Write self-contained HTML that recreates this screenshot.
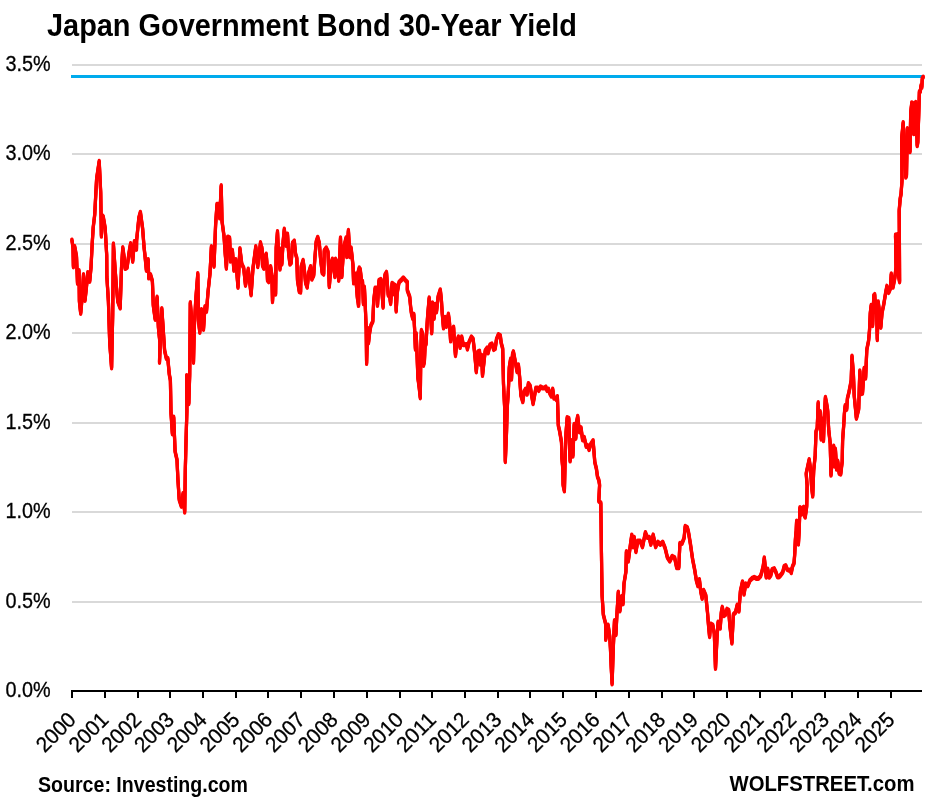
<!DOCTYPE html><html><head><meta charset="utf-8"><style>html,body{margin:0;padding:0;background:#fff;overflow:hidden;}svg{display:block;will-change:transform;}text{font-family:"Liberation Sans",sans-serif;}</style></head><body>
<svg width="931" height="801" viewBox="0 0 931 801">
<rect width="931" height="801" fill="#fff"/>
<text x="47" y="35.5" font-size="31" font-weight="bold" fill="#000" textLength="530" lengthAdjust="spacingAndGlyphs">Japan Government Bond 30-Year Yield</text>
<rect x="72" y="601" width="850" height="2" fill="#d9d9d9"/>
<rect x="72" y="511" width="850" height="2" fill="#d9d9d9"/>
<rect x="72" y="422" width="850" height="2" fill="#d9d9d9"/>
<rect x="72" y="332" width="850" height="2" fill="#d9d9d9"/>
<rect x="72" y="243" width="850" height="2" fill="#d9d9d9"/>
<rect x="72" y="153" width="850" height="2" fill="#d9d9d9"/>
<rect x="72" y="64" width="850" height="2" fill="#d9d9d9"/>
<text x="50.6" y="697.2" font-size="21.5" stroke="#000" stroke-width="0.3" text-anchor="end" textLength="45.2" lengthAdjust="spacingAndGlyphs">0.0%</text>
<text x="50.6" y="608.2" font-size="21.5" stroke="#000" stroke-width="0.3" text-anchor="end" textLength="45.2" lengthAdjust="spacingAndGlyphs">0.5%</text>
<text x="50.6" y="518.2" font-size="21.5" stroke="#000" stroke-width="0.3" text-anchor="end" textLength="45.2" lengthAdjust="spacingAndGlyphs">1.0%</text>
<text x="50.6" y="429.2" font-size="21.5" stroke="#000" stroke-width="0.3" text-anchor="end" textLength="45.2" lengthAdjust="spacingAndGlyphs">1.5%</text>
<text x="50.6" y="339.2" font-size="21.5" stroke="#000" stroke-width="0.3" text-anchor="end" textLength="45.2" lengthAdjust="spacingAndGlyphs">2.0%</text>
<text x="50.6" y="250.2" font-size="21.5" stroke="#000" stroke-width="0.3" text-anchor="end" textLength="45.2" lengthAdjust="spacingAndGlyphs">2.5%</text>
<text x="50.6" y="160.2" font-size="21.5" stroke="#000" stroke-width="0.3" text-anchor="end" textLength="45.2" lengthAdjust="spacingAndGlyphs">3.0%</text>
<text x="50.6" y="71.2" font-size="21.5" stroke="#000" stroke-width="0.3" text-anchor="end" textLength="45.2" lengthAdjust="spacingAndGlyphs">3.5%</text>
<rect x="71" y="75" width="853" height="3" fill="#00abed"/>
<path d="M71.9,239.9 L73.0,247.5 L73.4,266.9 L74.7,246.6 L76.5,256.5 L77.5,283.4 L79.0,270.6 L79.4,301.5 L80.7,313.4 L82.2,296.5 L83.5,274.6 L85.0,300.4 L86.5,286.5 L87.8,272.6 L89.7,281.4 L91.0,267.5 L92.2,243.5 L93.2,227.5 L94.7,214.9 L96.6,178.9 L99.2,161.3 L100.7,192.5 L101.4,236.2 L102.2,215.6 L103.2,216.5 L105.2,228.3 L106.7,255.3 L106.9,277.3 L108.4,301.5 L109.7,342.5 L111.6,368.0 L112.7,314.5 L113.4,243.8 L115.0,267.5 L116.4,286.5 L117.8,301.5 L120.2,308.1 L121.5,267.5 L122.8,247.6 L124.3,258.5 L125.2,268.6 L127.1,267.5 L129.0,253.0 L130.6,243.6 L132.7,261.4 L134.4,241.4 L136.5,249.4 L136.6,240.5 L138.9,217.5 L140.4,212.2 L142.6,228.3 L144.1,247.8 L144.9,254.8 L146.4,270.4 L148.2,259.6 L148.7,278.1 L150.5,274.6 L152.4,281.1 L153.3,305.5 L155.2,319.4 L157.1,297.1 L158.4,327.5 L159.9,342.5 L159.5,362.4 L161.8,308.4 L163.1,327.5 L164.6,350.5 L166.4,358.6 L167.8,358.4 L169.3,374.5 L170.4,380.2 L171.0,413.1 L172.4,434.0 L173.7,417.0 L175.1,451.5 L177.0,459.8 L177.9,479.1 L179.2,499.5 L181.4,506.4 L183.0,493.6 L184.7,512.3 L185.3,470.5 L186.1,437.9 L186.9,410.5 L186.6,375.6 L188.8,403.8 L189.7,374.5 L190.3,302.6 L191.5,316.5 L193.5,362.4 L194.3,327.5 L195.7,300.5 L197.8,273.6 L198.5,320.5 L199.8,332.4 L201.5,309.6 L203.5,329.4 L205.0,306.6 L206.5,311.4 L208.0,292.2 L210.0,273.5 L211.4,246.6 L212.7,256.5 L214.0,266.4 L215.6,224.8 L217.0,204.2 L219.3,204.2 L219.7,218.1 L221.2,185.6 L222.0,221.1 L224.0,236.0 L225.3,254.8 L226.4,268.4 L227.7,236.9 L229.6,237.9 L230.5,261.2 L232.4,250.3 L233.9,270.4 L235.8,259.6 L238.0,287.4 L239.9,248.4 L241.8,264.1 L243.7,267.9 L245.5,285.4 L248.3,269.0 L251.1,294.9 L253.0,267.9 L255.8,246.6 L257.7,266.8 L260.5,242.6 L262.4,252.9 L263.9,268.4 L261.9,247.8 L262.5,265.4 L263.7,268.1 L265.0,257.9 L266.2,254.0 L266.9,262.9 L267.5,280.4 L268.7,281.8 L270.6,266.5 L271.9,275.4 L272.5,301.8 L273.7,277.8 L275.6,294.3 L276.2,248.0 L277.5,231.6 L278.7,257.9 L280.0,269.3 L280.6,249.1 L281.8,264.3 L283.1,241.7 L284.3,229.1 L286.2,245.6 L287.5,234.1 L288.7,254.2 L290.0,264.3 L291.2,262.9 L292.5,243.0 L294.3,240.9 L295.6,254.2 L296.8,257.9 L297.5,280.4 L299.3,291.6 L300.6,292.3 L301.2,266.7 L303.1,260.3 L304.3,269.2 L305.6,282.9 L307.2,287.4 L308.7,272.9 L310.6,266.5 L311.8,279.3 L313.7,275.4 L314.9,257.9 L316.2,241.7 L317.7,237.2 L319.3,243.0 L320.5,257.9 L322.2,272.9 L323.7,274.3 L324.3,250.5 L326.2,247.8 L328.0,251.7 L329.3,286.8 L331.2,262.9 L332.4,259.0 L334.9,276.8 L335.5,259.0 L337.4,262.9 L338.7,280.6 L340.5,237.8 L341.8,276.8 L343.6,248.0 L346.1,237.8 L346.8,256.8 L348.4,230.3 L349.9,256.8 L351.1,247.8 L353.0,265.4 L353.6,283.1 L355.5,274.0 L357.4,297.9 L358.6,305.5 L359.3,267.8 L356.9,276.7 L358.4,305.5 L359.1,268.2 L360.2,269.2 L361.6,281.4 L362.5,281.3 L363.4,303.7 L364.4,287.1 L365.3,306.6 L366.2,329.1 L366.6,363.6 L367.7,328.3 L368.5,343.0 L369.6,332.9 L370.9,325.4 L372.8,321.6 L373.7,301.0 L375.2,287.9 L377.1,287.9 L377.5,305.5 L379.0,280.4 L380.8,279.4 L382.2,295.4 L383.1,307.4 L384.0,282.3 L385.0,274.8 L386.5,272.2 L387.2,282.3 L388.3,295.4 L389.6,295.4 L390.6,303.7 L392.1,283.2 L393.4,284.2 L394.3,294.3 L395.3,285.3 L396.2,311.2 L397.1,293.5 L399.0,282.3 L400.9,280.4 L403.3,277.8 L405.6,280.4 L407.4,282.3 L407.3,290.2 L409.7,296.7 L410.6,306.5 L411.4,313.0 L412.7,318.4 L413.8,314.1 L414.6,329.2 L415.4,349.2 L416.2,333.5 L417.0,353.6 L417.9,377.9 L419.2,387.6 L420.3,397.9 L420.8,353.6 L421.4,330.3 L422.7,334.1 L423.5,365.4 L424.4,361.7 L425.2,343.3 L426.0,344.3 L426.8,329.2 L427.6,316.2 L429.2,297.8 L430.5,313.0 L431.7,333.0 L432.5,302.7 L434.1,318.4 L435.4,304.3 L436.5,311.9 L438.1,296.7 L440.3,289.7 L441.4,300.0 L442.2,313.0 L443.5,328.1 L445.1,317.3 L446.3,326.5 L448.4,314.1 L449.5,322.7 L450.6,341.1 L452.3,329.2 L453.6,327.1 L454.4,342.2 L455.5,355.7 L456.8,342.2 L458.4,336.8 L460.1,347.6 L461.7,336.8 L463.3,344.7 L466.6,344.5 L467.4,349.2 L469.0,342.2 L471.4,336.8 L473.1,338.9 L474.7,353.6 L476.3,371.9 L477.9,351.9 L479.5,351.0 L480.2,364.3 L481.6,355.3 L482.5,375.6 L483.4,367.3 L484.4,358.0 L485.3,350.5 L487.2,347.8 L488.1,353.1 L490.0,344.8 L491.9,343.8 L493.7,349.6 L495.2,348.6 L496.5,339.2 L498.4,334.5 L500.3,335.5 L501.2,343.0 L502.7,348.6 L503.5,384.2 L504.6,406.6 L505.3,461.7 L506.5,432.9 L507.2,408.5 L508.3,391.7 L509.3,367.3 L510.6,359.1 L511.5,379.3 L512.5,354.2 L513.4,351.6 L515.3,361.7 L517.1,371.8 L518.4,364.7 L519.6,376.7 L520.9,395.4 L522.8,401.8 L524.1,391.7 L525.6,389.0 L527.1,394.3 L528.4,383.4 L530.2,386.0 L531.6,395.4 L533.1,403.7 L534.6,395.4 L535.9,387.9 L537.7,387.9 L538.7,390.6 L540.5,386.9 L542.4,387.9 L544.3,387.9 L545.8,386.9 L547.1,390.6 L548.4,389.0 L549.9,393.5 L551.4,396.2 L552.7,389.0 L554.0,398.3 L555.5,398.2 L556.5,399.9 L557.4,396.5 L558.3,425.4 L559.6,431.0 L561.5,442.2 L561.8,457.3 L562.8,468.7 L563.1,484.9 L564.4,491.1 L565.1,460.6 L566.0,433.0 L567.2,417.5 L568.8,418.4 L569.6,446.0 L570.1,461.1 L571.2,449.2 L572.0,440.6 L572.9,456.2 L574.2,424.3 L575.8,438.4 L576.4,423.2 L577.7,416.2 L579.4,431.9 L581.0,427.6 L582.6,440.0 L584.2,437.3 L586.2,446.5 L587.5,445.4 L589.1,449.7 L590.7,444.3 L593.1,440.6 L594.8,462.2 L596.4,468.7 L597.5,476.8 L598.8,480.0 L599.6,484.9 L598.8,501.1 L600.8,502.8 L601.7,571.8 L602.1,595.5 L603.3,614.5 L605.7,624.0 L605.7,639.5 L608.1,625.1 L609.7,635.9 L610.4,647.8 L611.2,666.8 L612.1,684.0 L612.8,662.0 L613.5,643.0 L614.5,620.4 L615.9,634.8 L616.9,614.5 L618.3,591.9 L618.8,607.4 L619.9,611.0 L621.6,596.6 L623.0,603.9 L624.0,583.6 L625.9,571.8 L626.4,551.5 L628.3,561.2 L630.6,543.3 L631.8,534.9 L633.0,546.9 L634.2,537.2 L635.9,551.7 L637.8,540.9 L640.1,540.9 L642.5,546.9 L643.7,540.9 L645.4,532.5 L647.3,537.4 L649.2,537.2 L650.8,544.5 L653.2,534.9 L655.6,546.9 L657.9,542.0 L660.3,544.5 L662.7,542.0 L665.1,548.0 L667.4,557.5 L669.8,561.2 L672.2,556.2 L674.6,557.5 L676.7,567.8 L678.8,567.8 L679.9,543.3 L682.0,543.5 L684.1,538.1 L685.2,526.3 L687.3,527.5 L688.4,531.7 L690.5,544.5 L692.6,559.3 L694.7,569.9 L696.4,580.6 L697.9,585.8 L699.4,579.5 L700.7,591.2 L702.2,598.6 L703.6,590.2 L705.8,595.4 L707.5,612.4 L708.5,625.1 L709.6,636.8 L710.6,623.9 L712.8,625.1 L714.3,633.6 L715.5,668.6 L717.0,637.9 L718.1,622.0 L720.2,628.3 L721.3,612.4 L722.3,607.1 L724.0,615.7 L725.5,614.5 L727.0,609.1 L728.7,610.3 L729.8,625.1 L731.9,643.2 L733.4,614.5 L735.5,612.4 L737.2,605.0 L738.9,611.3 L740.4,591.2 L742.5,581.7 L744.0,594.3 L745.7,583.8 L747.8,585.8 L749.9,580.6 L752.0,578.4 L754.2,577.2 L756.3,578.4 L758.4,578.4 L760.5,576.3 L761.7,572.4 L763.2,566.4 L764.3,557.7 L765.2,566.4 L766.2,577.3 L767.7,569.0 L769.2,577.3 L770.7,575.4 L772.2,569.4 L774.2,568.6 L776.0,572.4 L777.5,576.9 L779.0,576.9 L780.5,575.4 L782.7,572.4 L784.2,566.4 L785.7,565.6 L787.2,569.4 L788.7,570.2 L790.2,570.1 L791.3,572.8 L792.5,566.4 L794.0,563.4 L794.7,554.4 L795.4,539.4 L796.2,530.4 L796.6,521.0 L797.7,534.9 L798.4,544.3 L799.2,530.4 L799.9,507.6 L801.4,514.3 L802.6,508.0 L803.7,507.2 L804.4,515.4 L805.2,517.3 L806.7,506.5 L807.1,485.5 L806.2,473.4 L809.2,459.5 L810.7,470.4 L811.5,485.4 L812.7,496.3 L813.7,470.4 L815.2,455.4 L816.0,431.4 L817.2,428.4 L818.2,402.6 L819.0,424.3 L820.2,411.6 L821.2,439.3 L822.3,419.1 L823.5,440.8 L824.2,418.0 L825.4,397.3 L826.5,403.0 L827.7,410.5 L828.7,429.9 L830.2,443.4 L831.0,475.3 L832.2,458.4 L833.7,446.0 L834.7,466.3 L835.4,449.0 L836.6,469.3 L837.7,461.0 L839.2,473.4 L840.7,474.2 L842.2,461.4 L842.6,440.4 L843.7,425.4 L844.4,413.5 L845.2,405.6 L846.7,409.4 L847.4,398.5 L848.9,392.5 L850.1,386.5 L851.2,380.5 L852.0,355.9 L853.4,374.0 L854.2,395.5 L856.4,418.4 L858.7,409.0 L859.8,370.8 L860.9,393.7 L862.5,393.3 L864.2,368.2 L865.6,378.2 L866.8,349.6 L868.6,340.8 L869.5,330.4 L870.3,312.9 L871.2,305.3 L872.6,325.8 L873.8,295.4 L874.7,294.4 L875.6,311.8 L876.4,301.6 L877.3,339.7 L878.2,301.8 L879.6,312.9 L880.8,327.5 L882.0,312.9 L883.8,304.2 L885.5,293.7 L886.9,286.1 L888.7,292.6 L890.4,288.5 L891.3,273.8 L893.0,287.3 L894.8,278.0 L896.0,267.5 L895.5,235.0 L897.0,234.6 L898.5,275.5 L899.6,281.9 L899.4,240.5 L899.2,210.5 L900.2,198.5 L901.0,194.5 L902.0,180.5 L901.7,137.9 L903.2,122.5 L904.2,145.5 L905.2,163.4 L905.8,177.3 L906.5,175.5 L907.3,128.5 L908.3,130.5 L909.2,145.4 L910.0,151.8 L910.7,112.5 L911.8,102.7 L913.0,103.5 L913.7,133.8 L914.5,104.5 L915.7,102.3 L916.3,115.5 L917.2,145.8 L917.8,142.5 L918.7,115.5 L919.4,91.4 L920.3,91.6 L921.0,85.6 L921.8,87.4 L922.3,78.5 L923.2,77.0" fill="none" stroke="#ff0000" stroke-width="3.2" stroke-linejoin="round" stroke-linecap="round"/>
<path transform="translate(0,-0.9)" d="M71.9,239.9 L73.0,247.5 L73.4,266.9 L74.7,246.6 L76.5,256.5 L77.5,283.4 L79.0,270.6 L79.4,301.5 L80.7,313.4 L82.2,296.5 L83.5,274.6 L85.0,300.4 L86.5,286.5 L87.8,272.6 L89.7,281.4 L91.0,267.5 L92.2,243.5 L93.2,227.5 L94.7,214.9 L96.6,178.9 L99.2,161.3 L100.7,192.5 L101.4,236.2 L102.2,215.6 L103.2,216.5 L105.2,228.3 L106.7,255.3 L106.9,277.3 L108.4,301.5 L109.7,342.5 L111.6,368.0 L112.7,314.5 L113.4,243.8 L115.0,267.5 L116.4,286.5 L117.8,301.5 L120.2,308.1 L121.5,267.5 L122.8,247.6 L124.3,258.5 L125.2,268.6 L127.1,267.5 L129.0,253.0 L130.6,243.6 L132.7,261.4 L134.4,241.4 L136.5,249.4 L136.6,240.5 L138.9,217.5 L140.4,212.2 L142.6,228.3 L144.1,247.8 L144.9,254.8 L146.4,270.4 L148.2,259.6 L148.7,278.1 L150.5,274.6 L152.4,281.1 L153.3,305.5 L155.2,319.4 L157.1,297.1 L158.4,327.5 L159.9,342.5 L159.5,362.4 L161.8,308.4 L163.1,327.5 L164.6,350.5 L166.4,358.6 L167.8,358.4 L169.3,374.5 L170.4,380.2 L171.0,413.1 L172.4,434.0 L173.7,417.0 L175.1,451.5 L177.0,459.8 L177.9,479.1 L179.2,499.5 L181.4,506.4 L183.0,493.6 L184.7,512.3 L185.3,470.5 L186.1,437.9 L186.9,410.5 L186.6,375.6 L188.8,403.8 L189.7,374.5 L190.3,302.6 L191.5,316.5 L193.5,362.4 L194.3,327.5 L195.7,300.5 L197.8,273.6 L198.5,320.5 L199.8,332.4 L201.5,309.6 L203.5,329.4 L205.0,306.6 L206.5,311.4 L208.0,292.2 L210.0,273.5 L211.4,246.6 L212.7,256.5 L214.0,266.4 L215.6,224.8 L217.0,204.2 L219.3,204.2 L219.7,218.1 L221.2,185.6 L222.0,221.1 L224.0,236.0 L225.3,254.8 L226.4,268.4 L227.7,236.9 L229.6,237.9 L230.5,261.2 L232.4,250.3 L233.9,270.4 L235.8,259.6 L238.0,287.4 L239.9,248.4 L241.8,264.1 L243.7,267.9 L245.5,285.4 L248.3,269.0 L251.1,294.9 L253.0,267.9 L255.8,246.6 L257.7,266.8 L260.5,242.6 L262.4,252.9 L263.9,268.4 L261.9,247.8 L262.5,265.4 L263.7,268.1 L265.0,257.9 L266.2,254.0 L266.9,262.9 L267.5,280.4 L268.7,281.8 L270.6,266.5 L271.9,275.4 L272.5,301.8 L273.7,277.8 L275.6,294.3 L276.2,248.0 L277.5,231.6 L278.7,257.9 L280.0,269.3 L280.6,249.1 L281.8,264.3 L283.1,241.7 L284.3,229.1 L286.2,245.6 L287.5,234.1 L288.7,254.2 L290.0,264.3 L291.2,262.9 L292.5,243.0 L294.3,240.9 L295.6,254.2 L296.8,257.9 L297.5,280.4 L299.3,291.6 L300.6,292.3 L301.2,266.7 L303.1,260.3 L304.3,269.2 L305.6,282.9 L307.2,287.4 L308.7,272.9 L310.6,266.5 L311.8,279.3 L313.7,275.4 L314.9,257.9 L316.2,241.7 L317.7,237.2 L319.3,243.0 L320.5,257.9 L322.2,272.9 L323.7,274.3 L324.3,250.5 L326.2,247.8 L328.0,251.7 L329.3,286.8 L331.2,262.9 L332.4,259.0 L334.9,276.8 L335.5,259.0 L337.4,262.9 L338.7,280.6 L340.5,237.8 L341.8,276.8 L343.6,248.0 L346.1,237.8 L346.8,256.8 L348.4,230.3 L349.9,256.8 L351.1,247.8 L353.0,265.4 L353.6,283.1 L355.5,274.0 L357.4,297.9 L358.6,305.5 L359.3,267.8 L356.9,276.7 L358.4,305.5 L359.1,268.2 L360.2,269.2 L361.6,281.4 L362.5,281.3 L363.4,303.7 L364.4,287.1 L365.3,306.6 L366.2,329.1 L366.6,363.6 L367.7,328.3 L368.5,343.0 L369.6,332.9 L370.9,325.4 L372.8,321.6 L373.7,301.0 L375.2,287.9 L377.1,287.9 L377.5,305.5 L379.0,280.4 L380.8,279.4 L382.2,295.4 L383.1,307.4 L384.0,282.3 L385.0,274.8 L386.5,272.2 L387.2,282.3 L388.3,295.4 L389.6,295.4 L390.6,303.7 L392.1,283.2 L393.4,284.2 L394.3,294.3 L395.3,285.3 L396.2,311.2 L397.1,293.5 L399.0,282.3 L400.9,280.4 L403.3,277.8 L405.6,280.4 L407.4,282.3 L407.3,290.2 L409.7,296.7 L410.6,306.5 L411.4,313.0 L412.7,318.4 L413.8,314.1 L414.6,329.2 L415.4,349.2 L416.2,333.5 L417.0,353.6 L417.9,377.9 L419.2,387.6 L420.3,397.9 L420.8,353.6 L421.4,330.3 L422.7,334.1 L423.5,365.4 L424.4,361.7 L425.2,343.3 L426.0,344.3 L426.8,329.2 L427.6,316.2 L429.2,297.8 L430.5,313.0 L431.7,333.0 L432.5,302.7 L434.1,318.4 L435.4,304.3 L436.5,311.9 L438.1,296.7 L440.3,289.7 L441.4,300.0 L442.2,313.0 L443.5,328.1 L445.1,317.3 L446.3,326.5 L448.4,314.1 L449.5,322.7 L450.6,341.1 L452.3,329.2 L453.6,327.1 L454.4,342.2 L455.5,355.7 L456.8,342.2 L458.4,336.8 L460.1,347.6 L461.7,336.8 L463.3,344.7 L466.6,344.5 L467.4,349.2 L469.0,342.2 L471.4,336.8 L473.1,338.9 L474.7,353.6 L476.3,371.9 L477.9,351.9 L479.5,351.0 L480.2,364.3 L481.6,355.3 L482.5,375.6 L483.4,367.3 L484.4,358.0 L485.3,350.5 L487.2,347.8 L488.1,353.1 L490.0,344.8 L491.9,343.8 L493.7,349.6 L495.2,348.6 L496.5,339.2 L498.4,334.5 L500.3,335.5 L501.2,343.0 L502.7,348.6 L503.5,384.2 L504.6,406.6 L505.3,461.7 L506.5,432.9 L507.2,408.5 L508.3,391.7 L509.3,367.3 L510.6,359.1 L511.5,379.3 L512.5,354.2 L513.4,351.6 L515.3,361.7 L517.1,371.8 L518.4,364.7 L519.6,376.7 L520.9,395.4 L522.8,401.8 L524.1,391.7 L525.6,389.0 L527.1,394.3 L528.4,383.4 L530.2,386.0 L531.6,395.4 L533.1,403.7 L534.6,395.4 L535.9,387.9 L537.7,387.9 L538.7,390.6 L540.5,386.9 L542.4,387.9 L544.3,387.9 L545.8,386.9 L547.1,390.6 L548.4,389.0 L549.9,393.5 L551.4,396.2 L552.7,389.0 L554.0,398.3 L555.5,398.2 L556.5,399.9 L557.4,396.5 L558.3,425.4 L559.6,431.0 L561.5,442.2 L561.8,457.3 L562.8,468.7 L563.1,484.9 L564.4,491.1 L565.1,460.6 L566.0,433.0 L567.2,417.5 L568.8,418.4 L569.6,446.0 L570.1,461.1 L571.2,449.2 L572.0,440.6 L572.9,456.2 L574.2,424.3 L575.8,438.4 L576.4,423.2 L577.7,416.2 L579.4,431.9 L581.0,427.6 L582.6,440.0 L584.2,437.3 L586.2,446.5 L587.5,445.4 L589.1,449.7 L590.7,444.3 L593.1,440.6 L594.8,462.2 L596.4,468.7 L597.5,476.8 L598.8,480.0 L599.6,484.9 L598.8,501.1 L600.8,502.8 L601.7,571.8 L602.1,595.5 L603.3,614.5 L605.7,624.0 L605.7,639.5 L608.1,625.1 L609.7,635.9 L610.4,647.8 L611.2,666.8 L612.1,684.0 L612.8,662.0 L613.5,643.0 L614.5,620.4 L615.9,634.8 L616.9,614.5 L618.3,591.9 L618.8,607.4 L619.9,611.0 L621.6,596.6 L623.0,603.9 L624.0,583.6 L625.9,571.8 L626.4,551.5 L628.3,561.2 L630.6,543.3 L631.8,534.9 L633.0,546.9 L634.2,537.2 L635.9,551.7 L637.8,540.9 L640.1,540.9 L642.5,546.9 L643.7,540.9 L645.4,532.5 L647.3,537.4 L649.2,537.2 L650.8,544.5 L653.2,534.9 L655.6,546.9 L657.9,542.0 L660.3,544.5 L662.7,542.0 L665.1,548.0 L667.4,557.5 L669.8,561.2 L672.2,556.2 L674.6,557.5 L676.7,567.8 L678.8,567.8 L679.9,543.3 L682.0,543.5 L684.1,538.1 L685.2,526.3 L687.3,527.5 L688.4,531.7 L690.5,544.5 L692.6,559.3 L694.7,569.9 L696.4,580.6 L697.9,585.8 L699.4,579.5 L700.7,591.2 L702.2,598.6 L703.6,590.2 L705.8,595.4 L707.5,612.4 L708.5,625.1 L709.6,636.8 L710.6,623.9 L712.8,625.1 L714.3,633.6 L715.5,668.6 L717.0,637.9 L718.1,622.0 L720.2,628.3 L721.3,612.4 L722.3,607.1 L724.0,615.7 L725.5,614.5 L727.0,609.1 L728.7,610.3 L729.8,625.1 L731.9,643.2 L733.4,614.5 L735.5,612.4 L737.2,605.0 L738.9,611.3 L740.4,591.2 L742.5,581.7 L744.0,594.3 L745.7,583.8 L747.8,585.8 L749.9,580.6 L752.0,578.4 L754.2,577.2 L756.3,578.4 L758.4,578.4 L760.5,576.3 L761.7,572.4 L763.2,566.4 L764.3,557.7 L765.2,566.4 L766.2,577.3 L767.7,569.0 L769.2,577.3 L770.7,575.4 L772.2,569.4 L774.2,568.6 L776.0,572.4 L777.5,576.9 L779.0,576.9 L780.5,575.4 L782.7,572.4 L784.2,566.4 L785.7,565.6 L787.2,569.4 L788.7,570.2 L790.2,570.1 L791.3,572.8 L792.5,566.4 L794.0,563.4 L794.7,554.4 L795.4,539.4 L796.2,530.4 L796.6,521.0 L797.7,534.9 L798.4,544.3 L799.2,530.4 L799.9,507.6 L801.4,514.3 L802.6,508.0 L803.7,507.2 L804.4,515.4 L805.2,517.3 L806.7,506.5 L807.1,485.5 L806.2,473.4 L809.2,459.5 L810.7,470.4 L811.5,485.4 L812.7,496.3 L813.7,470.4 L815.2,455.4 L816.0,431.4 L817.2,428.4 L818.2,402.6 L819.0,424.3 L820.2,411.6 L821.2,439.3 L822.3,419.1 L823.5,440.8 L824.2,418.0 L825.4,397.3 L826.5,403.0 L827.7,410.5 L828.7,429.9 L830.2,443.4 L831.0,475.3 L832.2,458.4 L833.7,446.0 L834.7,466.3 L835.4,449.0 L836.6,469.3 L837.7,461.0 L839.2,473.4 L840.7,474.2 L842.2,461.4 L842.6,440.4 L843.7,425.4 L844.4,413.5 L845.2,405.6 L846.7,409.4 L847.4,398.5 L848.9,392.5 L850.1,386.5 L851.2,380.5 L852.0,355.9 L853.4,374.0 L854.2,395.5 L856.4,418.4 L858.7,409.0 L859.8,370.8 L860.9,393.7 L862.5,393.3 L864.2,368.2 L865.6,378.2 L866.8,349.6 L868.6,340.8 L869.5,330.4 L870.3,312.9 L871.2,305.3 L872.6,325.8 L873.8,295.4 L874.7,294.4 L875.6,311.8 L876.4,301.6 L877.3,339.7 L878.2,301.8 L879.6,312.9 L880.8,327.5 L882.0,312.9 L883.8,304.2 L885.5,293.7 L886.9,286.1 L888.7,292.6 L890.4,288.5 L891.3,273.8 L893.0,287.3 L894.8,278.0 L896.0,267.5 L895.5,235.0 L897.0,234.6 L898.5,275.5 L899.6,281.9 L899.4,240.5 L899.2,210.5 L900.2,198.5 L901.0,194.5 L902.0,180.5 L901.7,137.9 L903.2,122.5 L904.2,145.5 L905.2,163.4 L905.8,177.3 L906.5,175.5 L907.3,128.5 L908.3,130.5 L909.2,145.4 L910.0,151.8 L910.7,112.5 L911.8,102.7 L913.0,103.5 L913.7,133.8 L914.5,104.5 L915.7,102.3 L916.3,115.5 L917.2,145.8 L917.8,142.5 L918.7,115.5 L919.4,91.4 L920.3,91.6 L921.0,85.6 L921.8,87.4 L922.3,78.5 L923.2,77.0" fill="none" stroke="#ff0000" stroke-width="3.2" stroke-linejoin="round" stroke-linecap="round"/>
<path transform="translate(0,0.9)" d="M71.9,239.9 L73.0,247.5 L73.4,266.9 L74.7,246.6 L76.5,256.5 L77.5,283.4 L79.0,270.6 L79.4,301.5 L80.7,313.4 L82.2,296.5 L83.5,274.6 L85.0,300.4 L86.5,286.5 L87.8,272.6 L89.7,281.4 L91.0,267.5 L92.2,243.5 L93.2,227.5 L94.7,214.9 L96.6,178.9 L99.2,161.3 L100.7,192.5 L101.4,236.2 L102.2,215.6 L103.2,216.5 L105.2,228.3 L106.7,255.3 L106.9,277.3 L108.4,301.5 L109.7,342.5 L111.6,368.0 L112.7,314.5 L113.4,243.8 L115.0,267.5 L116.4,286.5 L117.8,301.5 L120.2,308.1 L121.5,267.5 L122.8,247.6 L124.3,258.5 L125.2,268.6 L127.1,267.5 L129.0,253.0 L130.6,243.6 L132.7,261.4 L134.4,241.4 L136.5,249.4 L136.6,240.5 L138.9,217.5 L140.4,212.2 L142.6,228.3 L144.1,247.8 L144.9,254.8 L146.4,270.4 L148.2,259.6 L148.7,278.1 L150.5,274.6 L152.4,281.1 L153.3,305.5 L155.2,319.4 L157.1,297.1 L158.4,327.5 L159.9,342.5 L159.5,362.4 L161.8,308.4 L163.1,327.5 L164.6,350.5 L166.4,358.6 L167.8,358.4 L169.3,374.5 L170.4,380.2 L171.0,413.1 L172.4,434.0 L173.7,417.0 L175.1,451.5 L177.0,459.8 L177.9,479.1 L179.2,499.5 L181.4,506.4 L183.0,493.6 L184.7,512.3 L185.3,470.5 L186.1,437.9 L186.9,410.5 L186.6,375.6 L188.8,403.8 L189.7,374.5 L190.3,302.6 L191.5,316.5 L193.5,362.4 L194.3,327.5 L195.7,300.5 L197.8,273.6 L198.5,320.5 L199.8,332.4 L201.5,309.6 L203.5,329.4 L205.0,306.6 L206.5,311.4 L208.0,292.2 L210.0,273.5 L211.4,246.6 L212.7,256.5 L214.0,266.4 L215.6,224.8 L217.0,204.2 L219.3,204.2 L219.7,218.1 L221.2,185.6 L222.0,221.1 L224.0,236.0 L225.3,254.8 L226.4,268.4 L227.7,236.9 L229.6,237.9 L230.5,261.2 L232.4,250.3 L233.9,270.4 L235.8,259.6 L238.0,287.4 L239.9,248.4 L241.8,264.1 L243.7,267.9 L245.5,285.4 L248.3,269.0 L251.1,294.9 L253.0,267.9 L255.8,246.6 L257.7,266.8 L260.5,242.6 L262.4,252.9 L263.9,268.4 L261.9,247.8 L262.5,265.4 L263.7,268.1 L265.0,257.9 L266.2,254.0 L266.9,262.9 L267.5,280.4 L268.7,281.8 L270.6,266.5 L271.9,275.4 L272.5,301.8 L273.7,277.8 L275.6,294.3 L276.2,248.0 L277.5,231.6 L278.7,257.9 L280.0,269.3 L280.6,249.1 L281.8,264.3 L283.1,241.7 L284.3,229.1 L286.2,245.6 L287.5,234.1 L288.7,254.2 L290.0,264.3 L291.2,262.9 L292.5,243.0 L294.3,240.9 L295.6,254.2 L296.8,257.9 L297.5,280.4 L299.3,291.6 L300.6,292.3 L301.2,266.7 L303.1,260.3 L304.3,269.2 L305.6,282.9 L307.2,287.4 L308.7,272.9 L310.6,266.5 L311.8,279.3 L313.7,275.4 L314.9,257.9 L316.2,241.7 L317.7,237.2 L319.3,243.0 L320.5,257.9 L322.2,272.9 L323.7,274.3 L324.3,250.5 L326.2,247.8 L328.0,251.7 L329.3,286.8 L331.2,262.9 L332.4,259.0 L334.9,276.8 L335.5,259.0 L337.4,262.9 L338.7,280.6 L340.5,237.8 L341.8,276.8 L343.6,248.0 L346.1,237.8 L346.8,256.8 L348.4,230.3 L349.9,256.8 L351.1,247.8 L353.0,265.4 L353.6,283.1 L355.5,274.0 L357.4,297.9 L358.6,305.5 L359.3,267.8 L356.9,276.7 L358.4,305.5 L359.1,268.2 L360.2,269.2 L361.6,281.4 L362.5,281.3 L363.4,303.7 L364.4,287.1 L365.3,306.6 L366.2,329.1 L366.6,363.6 L367.7,328.3 L368.5,343.0 L369.6,332.9 L370.9,325.4 L372.8,321.6 L373.7,301.0 L375.2,287.9 L377.1,287.9 L377.5,305.5 L379.0,280.4 L380.8,279.4 L382.2,295.4 L383.1,307.4 L384.0,282.3 L385.0,274.8 L386.5,272.2 L387.2,282.3 L388.3,295.4 L389.6,295.4 L390.6,303.7 L392.1,283.2 L393.4,284.2 L394.3,294.3 L395.3,285.3 L396.2,311.2 L397.1,293.5 L399.0,282.3 L400.9,280.4 L403.3,277.8 L405.6,280.4 L407.4,282.3 L407.3,290.2 L409.7,296.7 L410.6,306.5 L411.4,313.0 L412.7,318.4 L413.8,314.1 L414.6,329.2 L415.4,349.2 L416.2,333.5 L417.0,353.6 L417.9,377.9 L419.2,387.6 L420.3,397.9 L420.8,353.6 L421.4,330.3 L422.7,334.1 L423.5,365.4 L424.4,361.7 L425.2,343.3 L426.0,344.3 L426.8,329.2 L427.6,316.2 L429.2,297.8 L430.5,313.0 L431.7,333.0 L432.5,302.7 L434.1,318.4 L435.4,304.3 L436.5,311.9 L438.1,296.7 L440.3,289.7 L441.4,300.0 L442.2,313.0 L443.5,328.1 L445.1,317.3 L446.3,326.5 L448.4,314.1 L449.5,322.7 L450.6,341.1 L452.3,329.2 L453.6,327.1 L454.4,342.2 L455.5,355.7 L456.8,342.2 L458.4,336.8 L460.1,347.6 L461.7,336.8 L463.3,344.7 L466.6,344.5 L467.4,349.2 L469.0,342.2 L471.4,336.8 L473.1,338.9 L474.7,353.6 L476.3,371.9 L477.9,351.9 L479.5,351.0 L480.2,364.3 L481.6,355.3 L482.5,375.6 L483.4,367.3 L484.4,358.0 L485.3,350.5 L487.2,347.8 L488.1,353.1 L490.0,344.8 L491.9,343.8 L493.7,349.6 L495.2,348.6 L496.5,339.2 L498.4,334.5 L500.3,335.5 L501.2,343.0 L502.7,348.6 L503.5,384.2 L504.6,406.6 L505.3,461.7 L506.5,432.9 L507.2,408.5 L508.3,391.7 L509.3,367.3 L510.6,359.1 L511.5,379.3 L512.5,354.2 L513.4,351.6 L515.3,361.7 L517.1,371.8 L518.4,364.7 L519.6,376.7 L520.9,395.4 L522.8,401.8 L524.1,391.7 L525.6,389.0 L527.1,394.3 L528.4,383.4 L530.2,386.0 L531.6,395.4 L533.1,403.7 L534.6,395.4 L535.9,387.9 L537.7,387.9 L538.7,390.6 L540.5,386.9 L542.4,387.9 L544.3,387.9 L545.8,386.9 L547.1,390.6 L548.4,389.0 L549.9,393.5 L551.4,396.2 L552.7,389.0 L554.0,398.3 L555.5,398.2 L556.5,399.9 L557.4,396.5 L558.3,425.4 L559.6,431.0 L561.5,442.2 L561.8,457.3 L562.8,468.7 L563.1,484.9 L564.4,491.1 L565.1,460.6 L566.0,433.0 L567.2,417.5 L568.8,418.4 L569.6,446.0 L570.1,461.1 L571.2,449.2 L572.0,440.6 L572.9,456.2 L574.2,424.3 L575.8,438.4 L576.4,423.2 L577.7,416.2 L579.4,431.9 L581.0,427.6 L582.6,440.0 L584.2,437.3 L586.2,446.5 L587.5,445.4 L589.1,449.7 L590.7,444.3 L593.1,440.6 L594.8,462.2 L596.4,468.7 L597.5,476.8 L598.8,480.0 L599.6,484.9 L598.8,501.1 L600.8,502.8 L601.7,571.8 L602.1,595.5 L603.3,614.5 L605.7,624.0 L605.7,639.5 L608.1,625.1 L609.7,635.9 L610.4,647.8 L611.2,666.8 L612.1,684.0 L612.8,662.0 L613.5,643.0 L614.5,620.4 L615.9,634.8 L616.9,614.5 L618.3,591.9 L618.8,607.4 L619.9,611.0 L621.6,596.6 L623.0,603.9 L624.0,583.6 L625.9,571.8 L626.4,551.5 L628.3,561.2 L630.6,543.3 L631.8,534.9 L633.0,546.9 L634.2,537.2 L635.9,551.7 L637.8,540.9 L640.1,540.9 L642.5,546.9 L643.7,540.9 L645.4,532.5 L647.3,537.4 L649.2,537.2 L650.8,544.5 L653.2,534.9 L655.6,546.9 L657.9,542.0 L660.3,544.5 L662.7,542.0 L665.1,548.0 L667.4,557.5 L669.8,561.2 L672.2,556.2 L674.6,557.5 L676.7,567.8 L678.8,567.8 L679.9,543.3 L682.0,543.5 L684.1,538.1 L685.2,526.3 L687.3,527.5 L688.4,531.7 L690.5,544.5 L692.6,559.3 L694.7,569.9 L696.4,580.6 L697.9,585.8 L699.4,579.5 L700.7,591.2 L702.2,598.6 L703.6,590.2 L705.8,595.4 L707.5,612.4 L708.5,625.1 L709.6,636.8 L710.6,623.9 L712.8,625.1 L714.3,633.6 L715.5,668.6 L717.0,637.9 L718.1,622.0 L720.2,628.3 L721.3,612.4 L722.3,607.1 L724.0,615.7 L725.5,614.5 L727.0,609.1 L728.7,610.3 L729.8,625.1 L731.9,643.2 L733.4,614.5 L735.5,612.4 L737.2,605.0 L738.9,611.3 L740.4,591.2 L742.5,581.7 L744.0,594.3 L745.7,583.8 L747.8,585.8 L749.9,580.6 L752.0,578.4 L754.2,577.2 L756.3,578.4 L758.4,578.4 L760.5,576.3 L761.7,572.4 L763.2,566.4 L764.3,557.7 L765.2,566.4 L766.2,577.3 L767.7,569.0 L769.2,577.3 L770.7,575.4 L772.2,569.4 L774.2,568.6 L776.0,572.4 L777.5,576.9 L779.0,576.9 L780.5,575.4 L782.7,572.4 L784.2,566.4 L785.7,565.6 L787.2,569.4 L788.7,570.2 L790.2,570.1 L791.3,572.8 L792.5,566.4 L794.0,563.4 L794.7,554.4 L795.4,539.4 L796.2,530.4 L796.6,521.0 L797.7,534.9 L798.4,544.3 L799.2,530.4 L799.9,507.6 L801.4,514.3 L802.6,508.0 L803.7,507.2 L804.4,515.4 L805.2,517.3 L806.7,506.5 L807.1,485.5 L806.2,473.4 L809.2,459.5 L810.7,470.4 L811.5,485.4 L812.7,496.3 L813.7,470.4 L815.2,455.4 L816.0,431.4 L817.2,428.4 L818.2,402.6 L819.0,424.3 L820.2,411.6 L821.2,439.3 L822.3,419.1 L823.5,440.8 L824.2,418.0 L825.4,397.3 L826.5,403.0 L827.7,410.5 L828.7,429.9 L830.2,443.4 L831.0,475.3 L832.2,458.4 L833.7,446.0 L834.7,466.3 L835.4,449.0 L836.6,469.3 L837.7,461.0 L839.2,473.4 L840.7,474.2 L842.2,461.4 L842.6,440.4 L843.7,425.4 L844.4,413.5 L845.2,405.6 L846.7,409.4 L847.4,398.5 L848.9,392.5 L850.1,386.5 L851.2,380.5 L852.0,355.9 L853.4,374.0 L854.2,395.5 L856.4,418.4 L858.7,409.0 L859.8,370.8 L860.9,393.7 L862.5,393.3 L864.2,368.2 L865.6,378.2 L866.8,349.6 L868.6,340.8 L869.5,330.4 L870.3,312.9 L871.2,305.3 L872.6,325.8 L873.8,295.4 L874.7,294.4 L875.6,311.8 L876.4,301.6 L877.3,339.7 L878.2,301.8 L879.6,312.9 L880.8,327.5 L882.0,312.9 L883.8,304.2 L885.5,293.7 L886.9,286.1 L888.7,292.6 L890.4,288.5 L891.3,273.8 L893.0,287.3 L894.8,278.0 L896.0,267.5 L895.5,235.0 L897.0,234.6 L898.5,275.5 L899.6,281.9 L899.4,240.5 L899.2,210.5 L900.2,198.5 L901.0,194.5 L902.0,180.5 L901.7,137.9 L903.2,122.5 L904.2,145.5 L905.2,163.4 L905.8,177.3 L906.5,175.5 L907.3,128.5 L908.3,130.5 L909.2,145.4 L910.0,151.8 L910.7,112.5 L911.8,102.7 L913.0,103.5 L913.7,133.8 L914.5,104.5 L915.7,102.3 L916.3,115.5 L917.2,145.8 L917.8,142.5 L918.7,115.5 L919.4,91.4 L920.3,91.6 L921.0,85.6 L921.8,87.4 L922.3,78.5 L923.2,77.0" fill="none" stroke="#ff0000" stroke-width="3.2" stroke-linejoin="round" stroke-linecap="round"/>
<rect x="71" y="690" width="851" height="2" fill="#000"/>
<rect x="71" y="690" width="2" height="8" fill="#000"/>
<rect x="104" y="690" width="2" height="8" fill="#000"/>
<rect x="137" y="690" width="2" height="8" fill="#000"/>
<rect x="169" y="690" width="2" height="8" fill="#000"/>
<rect x="202" y="690" width="2" height="8" fill="#000"/>
<rect x="235" y="690" width="2" height="8" fill="#000"/>
<rect x="267" y="690" width="2" height="8" fill="#000"/>
<rect x="300" y="690" width="2" height="8" fill="#000"/>
<rect x="333" y="690" width="2" height="8" fill="#000"/>
<rect x="366" y="690" width="2" height="8" fill="#000"/>
<rect x="399" y="690" width="2" height="8" fill="#000"/>
<rect x="431" y="690" width="2" height="8" fill="#000"/>
<rect x="464" y="690" width="2" height="8" fill="#000"/>
<rect x="497" y="690" width="2" height="8" fill="#000"/>
<rect x="529" y="690" width="2" height="8" fill="#000"/>
<rect x="562" y="690" width="2" height="8" fill="#000"/>
<rect x="595" y="690" width="2" height="8" fill="#000"/>
<rect x="628" y="690" width="2" height="8" fill="#000"/>
<rect x="661" y="690" width="2" height="8" fill="#000"/>
<rect x="693" y="690" width="2" height="8" fill="#000"/>
<rect x="726" y="690" width="2" height="8" fill="#000"/>
<rect x="759" y="690" width="2" height="8" fill="#000"/>
<rect x="791" y="690" width="2" height="8" fill="#000"/>
<rect x="824" y="690" width="2" height="8" fill="#000"/>
<rect x="857" y="690" width="2" height="8" fill="#000"/>
<rect x="890" y="690" width="2" height="8" fill="#000"/>
<text transform="translate(77.20,721) rotate(-45)" font-size="21.5" stroke="#000" stroke-width="0.3" text-anchor="end" textLength="46" lengthAdjust="spacingAndGlyphs">2000</text>
<text transform="translate(109.95,721) rotate(-45)" font-size="21.5" stroke="#000" stroke-width="0.3" text-anchor="end" textLength="46" lengthAdjust="spacingAndGlyphs">2001</text>
<text transform="translate(142.70,721) rotate(-45)" font-size="21.5" stroke="#000" stroke-width="0.3" text-anchor="end" textLength="46" lengthAdjust="spacingAndGlyphs">2002</text>
<text transform="translate(175.45,721) rotate(-45)" font-size="21.5" stroke="#000" stroke-width="0.3" text-anchor="end" textLength="46" lengthAdjust="spacingAndGlyphs">2003</text>
<text transform="translate(208.20,721) rotate(-45)" font-size="21.5" stroke="#000" stroke-width="0.3" text-anchor="end" textLength="46" lengthAdjust="spacingAndGlyphs">2004</text>
<text transform="translate(240.95,721) rotate(-45)" font-size="21.5" stroke="#000" stroke-width="0.3" text-anchor="end" textLength="46" lengthAdjust="spacingAndGlyphs">2005</text>
<text transform="translate(273.70,721) rotate(-45)" font-size="21.5" stroke="#000" stroke-width="0.3" text-anchor="end" textLength="46" lengthAdjust="spacingAndGlyphs">2006</text>
<text transform="translate(306.45,721) rotate(-45)" font-size="21.5" stroke="#000" stroke-width="0.3" text-anchor="end" textLength="46" lengthAdjust="spacingAndGlyphs">2007</text>
<text transform="translate(339.20,721) rotate(-45)" font-size="21.5" stroke="#000" stroke-width="0.3" text-anchor="end" textLength="46" lengthAdjust="spacingAndGlyphs">2008</text>
<text transform="translate(371.95,721) rotate(-45)" font-size="21.5" stroke="#000" stroke-width="0.3" text-anchor="end" textLength="46" lengthAdjust="spacingAndGlyphs">2009</text>
<text transform="translate(404.70,721) rotate(-45)" font-size="21.5" stroke="#000" stroke-width="0.3" text-anchor="end" textLength="46" lengthAdjust="spacingAndGlyphs">2010</text>
<text transform="translate(437.45,721) rotate(-45)" font-size="21.5" stroke="#000" stroke-width="0.3" text-anchor="end" textLength="46" lengthAdjust="spacingAndGlyphs">2011</text>
<text transform="translate(470.20,721) rotate(-45)" font-size="21.5" stroke="#000" stroke-width="0.3" text-anchor="end" textLength="46" lengthAdjust="spacingAndGlyphs">2012</text>
<text transform="translate(502.95,721) rotate(-45)" font-size="21.5" stroke="#000" stroke-width="0.3" text-anchor="end" textLength="46" lengthAdjust="spacingAndGlyphs">2013</text>
<text transform="translate(535.70,721) rotate(-45)" font-size="21.5" stroke="#000" stroke-width="0.3" text-anchor="end" textLength="46" lengthAdjust="spacingAndGlyphs">2014</text>
<text transform="translate(568.45,721) rotate(-45)" font-size="21.5" stroke="#000" stroke-width="0.3" text-anchor="end" textLength="46" lengthAdjust="spacingAndGlyphs">2015</text>
<text transform="translate(601.20,721) rotate(-45)" font-size="21.5" stroke="#000" stroke-width="0.3" text-anchor="end" textLength="46" lengthAdjust="spacingAndGlyphs">2016</text>
<text transform="translate(633.95,721) rotate(-45)" font-size="21.5" stroke="#000" stroke-width="0.3" text-anchor="end" textLength="46" lengthAdjust="spacingAndGlyphs">2017</text>
<text transform="translate(666.70,721) rotate(-45)" font-size="21.5" stroke="#000" stroke-width="0.3" text-anchor="end" textLength="46" lengthAdjust="spacingAndGlyphs">2018</text>
<text transform="translate(699.45,721) rotate(-45)" font-size="21.5" stroke="#000" stroke-width="0.3" text-anchor="end" textLength="46" lengthAdjust="spacingAndGlyphs">2019</text>
<text transform="translate(732.20,721) rotate(-45)" font-size="21.5" stroke="#000" stroke-width="0.3" text-anchor="end" textLength="46" lengthAdjust="spacingAndGlyphs">2020</text>
<text transform="translate(764.95,721) rotate(-45)" font-size="21.5" stroke="#000" stroke-width="0.3" text-anchor="end" textLength="46" lengthAdjust="spacingAndGlyphs">2021</text>
<text transform="translate(797.70,721) rotate(-45)" font-size="21.5" stroke="#000" stroke-width="0.3" text-anchor="end" textLength="46" lengthAdjust="spacingAndGlyphs">2022</text>
<text transform="translate(830.45,721) rotate(-45)" font-size="21.5" stroke="#000" stroke-width="0.3" text-anchor="end" textLength="46" lengthAdjust="spacingAndGlyphs">2023</text>
<text transform="translate(863.20,721) rotate(-45)" font-size="21.5" stroke="#000" stroke-width="0.3" text-anchor="end" textLength="46" lengthAdjust="spacingAndGlyphs">2024</text>
<text transform="translate(895.95,721) rotate(-45)" font-size="21.5" stroke="#000" stroke-width="0.3" text-anchor="end" textLength="46" lengthAdjust="spacingAndGlyphs">2025</text>
<text x="38" y="792" font-size="22.5" font-weight="bold" textLength="210" lengthAdjust="spacingAndGlyphs">Source: Investing.com</text>
<text x="729.5" y="791" font-size="22.5" font-weight="bold" textLength="185" lengthAdjust="spacingAndGlyphs">WOLFSTREET.com</text>
</svg></body></html>
